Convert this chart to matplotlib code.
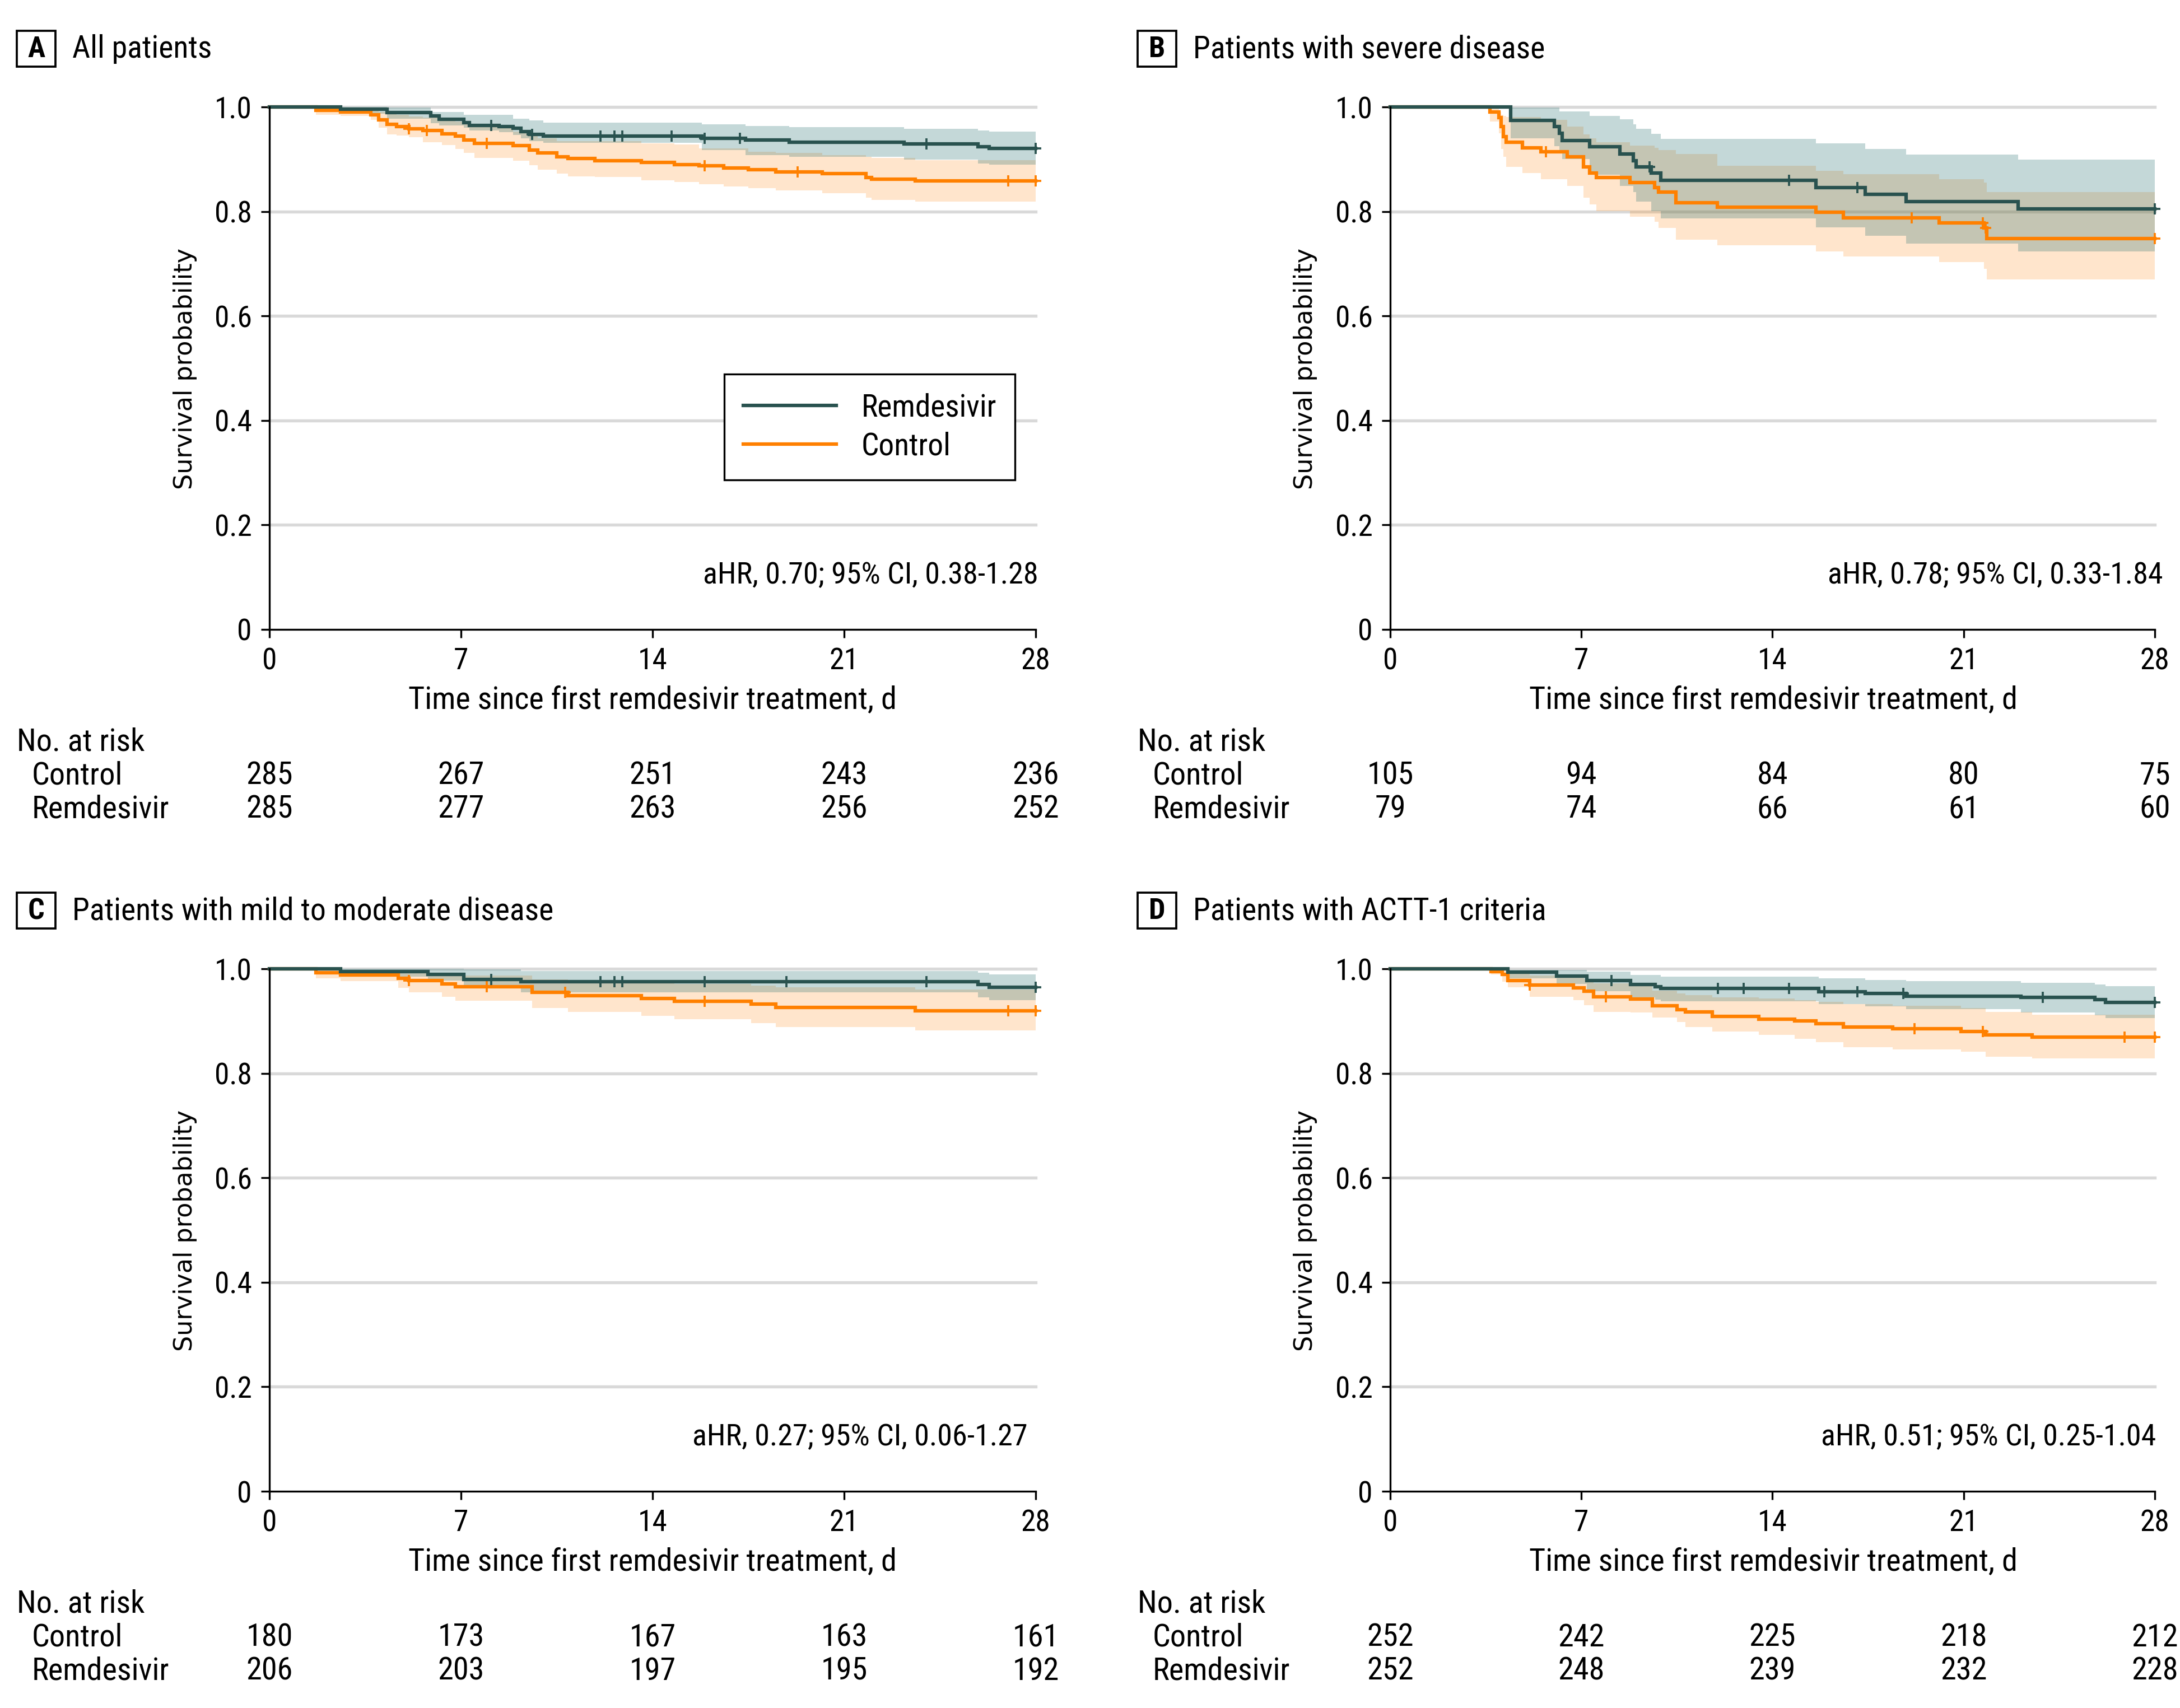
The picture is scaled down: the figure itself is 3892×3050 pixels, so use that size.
import numpy as np
import matplotlib
matplotlib.use('Agg')
import matplotlib.pyplot as plt
from matplotlib import font_manager as fm
from matplotlib import transforms as mtransforms
from matplotlib.patches import Rectangle

# ---- data ----
days = [0, 7, 14, 21, 28]

# A  all patients
a_rem_t = [0, 2.6, 4.3, 5.9, 6.2, 7.1, 7.3, 8.4, 8.9, 9.2, 9.5, 10.0, 15.8, 17.4, 19.0, 23.2, 25.9, 26.3]
a_rem_s = [1.0, 0.996, 0.989, 0.983, 0.976, 0.970, 0.965, 0.962, 0.959, 0.953, 0.948, 0.944, 0.940, 0.937, 0.933, 0.929, 0.924, 0.921]
a_rem_hi = [1.0, 1.0, 0.999, 0.990, 0.990, 0.985, 0.985, 0.985, 0.978, 0.978, 0.974, 0.970, 0.967, 0.964, 0.961, 0.958, 0.955, 0.953]
a_rem_lo = [1.0, 0.987, 0.978, 0.969, 0.965, 0.960, 0.955, 0.952, 0.946, 0.940, 0.935, 0.931, 0.917, 0.908, 0.905, 0.899, 0.892, 0.890]
a_rem_cens = [8.1, 9.6, 12.1, 12.6, 12.9, 14.7, 15.9, 17.2, 24.0, 28.0]

a_ctl_t = [0, 1.7, 2.6, 3.7, 4.0, 4.3, 4.65, 5.1, 5.6, 6.3, 6.8, 7.1, 7.5, 8.9, 9.5, 9.8, 10.5, 10.9, 11.9, 13.6, 14.8, 15.7, 16.6, 17.5, 18.5, 20.2, 21.8, 22.0, 23.6]
a_ctl_s = [1.0, 0.994, 0.990, 0.985, 0.975, 0.967, 0.962, 0.958, 0.955, 0.949, 0.944, 0.937, 0.930, 0.926, 0.917, 0.912, 0.905, 0.901, 0.897, 0.894, 0.890, 0.887, 0.883, 0.880, 0.876, 0.872, 0.865, 0.862, 0.858]
a_ctl_hi = [1.0, 1.0, 0.998, 0.995, 0.990, 0.987, 0.985, 0.982, 0.980, 0.976, 0.972, 0.967, 0.962, 0.953, 0.945, 0.940, 0.935, 0.935, 0.935, 0.930, 0.928, 0.921, 0.921, 0.914, 0.912, 0.908, 0.905, 0.903, 0.898]
a_ctl_lo = [1.0, 0.985, 0.983, 0.975, 0.960, 0.948, 0.945, 0.942, 0.932, 0.927, 0.920, 0.912, 0.903, 0.897, 0.889, 0.880, 0.872, 0.867, 0.866, 0.860, 0.856, 0.852, 0.848, 0.845, 0.840, 0.835, 0.826, 0.822, 0.819]
a_ctl_cens = [5.1, 5.75, 7.95, 15.9, 19.3, 27.0, 28.0]

# B  severe disease
b_rem_t = [0, 4.4, 6.0, 6.2, 6.3, 7.3, 8.4, 8.9, 9.0, 9.55, 9.9, 15.6, 17.4, 18.9, 23.0]
b_rem_s = [1.0, 0.974, 0.962, 0.950, 0.936, 0.924, 0.910, 0.897, 0.885, 0.874, 0.860, 0.846, 0.833, 0.819, 0.805]
b_rem_hi = [1.0, 0.999, 0.999, 0.991, 0.991, 0.983, 0.976, 0.967, 0.958, 0.949, 0.939, 0.930, 0.920, 0.909, 0.899]
b_rem_lo = [1.0, 0.940, 0.925, 0.912, 0.900, 0.870, 0.849, 0.837, 0.819, 0.801, 0.787, 0.770, 0.754, 0.738, 0.723]
b_rem_cens = [9.5, 14.6, 17.1, 28.0]

b_ctl_t = [0, 3.65, 3.97, 4.06, 4.15, 4.24, 4.84, 5.52, 6.49, 7.08, 7.31, 7.54, 8.77, 9.69, 9.83, 10.47, 11.98, 15.6, 16.6, 20.1, 21.75, 21.85]
b_ctl_s = [1.0, 0.990, 0.980, 0.962, 0.943, 0.933, 0.922, 0.914, 0.905, 0.885, 0.874, 0.865, 0.855, 0.846, 0.837, 0.817, 0.808, 0.798, 0.788, 0.778, 0.769, 0.748]
b_ctl_hi = [1.0, 1.0, 0.990, 0.985, 0.983, 0.981, 0.981, 0.975, 0.962, 0.948, 0.940, 0.933, 0.926, 0.922, 0.917, 0.910, 0.887, 0.878, 0.871, 0.862, 0.855, 0.837]
b_ctl_lo = [1.0, 0.972, 0.950, 0.920, 0.905, 0.885, 0.874, 0.862, 0.849, 0.826, 0.814, 0.801, 0.790, 0.780, 0.769, 0.746, 0.735, 0.724, 0.714, 0.703, 0.690, 0.670]
b_ctl_cens = [5.7, 19.1, 21.7, 21.8, 28.0]

# C  mild to moderate disease
c_rem_t = [0, 2.6, 5.8, 7.1, 9.2, 25.9, 26.3]
c_rem_s = [1.0, 0.995, 0.989, 0.980, 0.975, 0.970, 0.965]
c_rem_hi = [1.0, 1.0, 1.0, 0.999, 0.996, 0.993, 0.989]
c_rem_lo = [1.0, 0.985, 0.978, 0.965, 0.955, 0.945, 0.940]
c_rem_cens = [8.1, 12.1, 12.6, 12.9, 15.9, 18.9, 24.0, 28.0]

c_ctl_t = [0, 1.7, 2.6, 4.7, 5.1, 6.3, 6.8, 9.6, 10.9, 13.6, 14.8, 17.6, 18.5, 23.6]
c_ctl_s = [1.0, 0.993, 0.988, 0.982, 0.977, 0.971, 0.966, 0.955, 0.949, 0.943, 0.938, 0.932, 0.926, 0.920]
c_ctl_hi = [1.0, 1.0, 0.998, 0.995, 0.993, 0.990, 0.987, 0.980, 0.977, 0.974, 0.971, 0.968, 0.965, 0.960]
c_ctl_lo = [1.0, 0.982, 0.976, 0.964, 0.955, 0.946, 0.939, 0.925, 0.917, 0.910, 0.904, 0.896, 0.888, 0.882]
c_ctl_cens = [5.1, 7.95, 10.8, 15.9, 27.0, 28.0]

# D  ACTT-1 criteria
d_rem_t = [0, 4.3, 6.1, 7.2, 8.8, 9.7, 9.9, 15.7, 17.4, 18.9, 23.1, 25.8, 26.2]
d_rem_s = [1.0, 0.994, 0.986, 0.977, 0.970, 0.966, 0.962, 0.956, 0.953, 0.948, 0.945, 0.941, 0.936]
d_rem_hi = [1.0, 0.998, 0.998, 0.995, 0.988, 0.988, 0.985, 0.982, 0.979, 0.976, 0.973, 0.970, 0.967]
d_rem_lo = [1.0, 0.982, 0.971, 0.957, 0.945, 0.941, 0.938, 0.932, 0.928, 0.923, 0.916, 0.911, 0.906]
d_rem_cens = [8.1, 12.0, 12.95, 14.6, 15.9, 17.1, 18.8, 23.9, 28.0]

d_ctl_t = [0, 3.7, 4.1, 4.3, 5.1, 6.7, 7.1, 7.45, 8.8, 9.6, 10.5, 10.8, 11.8, 13.5, 14.8, 15.6, 16.6, 18.4, 20.9, 21.8, 23.5]
d_ctl_s = [1.0, 0.995, 0.989, 0.977, 0.969, 0.964, 0.957, 0.946, 0.942, 0.929, 0.922, 0.918, 0.909, 0.904, 0.900, 0.895, 0.889, 0.885, 0.880, 0.873, 0.869]
d_ctl_hi = [1.0, 1.0, 0.998, 0.991, 0.987, 0.984, 0.980, 0.972, 0.968, 0.958, 0.953, 0.950, 0.945, 0.943, 0.940, 0.937, 0.932, 0.929, 0.925, 0.918, 0.912]
d_ctl_lo = [1.0, 0.989, 0.975, 0.965, 0.946, 0.940, 0.930, 0.918, 0.916, 0.907, 0.898, 0.888, 0.880, 0.873, 0.866, 0.860, 0.850, 0.846, 0.841, 0.832, 0.828]
d_ctl_cens = [5.1, 7.9, 19.2, 21.7, 26.9, 28.0]

# numbers at risk
a_risk_ctl = [285, 267, 251, 243, 236]
a_risk_rem = [285, 277, 263, 256, 252]
b_risk_ctl = [105, 94, 84, 80, 75]
b_risk_rem = [79, 74, 66, 61, 60]
c_risk_ctl = [180, 173, 167, 163, 161]
c_risk_rem = [206, 203, 197, 195, 192]
d_risk_ctl = [252, 242, 225, 218, 212]
d_risk_rem = [252, 248, 239, 232, 228]

letters = ['A', 'B', 'C', 'D']
titles = ['All patients', 'Patients with severe disease',
          'Patients with mild to moderate disease', 'Patients with ACTT-1 criteria']
hr_texts = ['aHR, 0.70; 95% CI, 0.38-1.28', 'aHR, 0.78; 95% CI, 0.33-1.84',
            'aHR, 0.27; 95% CI, 0.06-1.27', 'aHR, 0.51; 95% CI, 0.25-1.04']

# ---- style ----
REM = '#29524f'
REM_BAND = '#287272'
CTL = '#ff8000'

# look for a narrow / condensed sans face; the original uses a condensed font
narrow_stretch = ('condensed', 'semi-condensed', 'extra-condensed', 'ultra-condensed')
font_name, font_stretch = None, 'normal'
for pref in ['Liberation Sans Narrow', 'Roboto Condensed', 'Open Sans Condensed',
             'Noto Sans', 'DejaVu Sans', 'Open Sans', 'Roboto', 'Liberation Sans']:
    for f in fm.fontManager.ttflist:
        if f.name != pref:
            continue
        if 'Narrow' in f.name or 'Condensed' in f.name:
            font_name, font_stretch = f.name, 'normal'
        elif str(f.stretch) in narrow_stretch:
            font_name, font_stretch = f.name, str(f.stretch)
        if font_name:
            break
    if font_name:
        break
if font_name is None:
    font_name = 'DejaVu Sans'
    k = 0.86     # shrink text so widths stay close to the condensed original
else:
    k = 1.0

plt.rcParams['font.family'] = [font_name, 'DejaVu Sans']
plt.rcParams['font.stretch'] = font_stretch

W, H = 3892, 3050
fig = plt.figure(figsize=(W / 300, H / 300), dpi=300)


def fx(px):
    return px / W


def fy(py):
    return 1 - py / H


def km(ax, t, s, lo, hi, cens, color, band, band_alpha):
    tt = list(t) + [28]
    ax.fill_between(tt, list(lo) + [lo[-1]], list(hi) + [hi[-1]], step='post',
                    color=band, alpha=band_alpha, lw=0, clip_on=False)
    ax.step(tt, list(s) + [s[-1]], where='post', color=color, lw=1.5,
            clip_on=False, solid_joinstyle='miter')
    idx = np.searchsorted(t, cens, side='right') - 1
    ax.plot(cens, np.array(s)[idx], ls='none', marker='+', ms=5, mew=0.9,
            color=color, clip_on=False)


panels = [
    (a_rem_t, a_rem_s, a_rem_lo, a_rem_hi, a_rem_cens, a_ctl_t, a_ctl_s, a_ctl_lo, a_ctl_hi, a_ctl_cens, a_risk_ctl, a_risk_rem),
    (b_rem_t, b_rem_s, b_rem_lo, b_rem_hi, b_rem_cens, b_ctl_t, b_ctl_s, b_ctl_lo, b_ctl_hi, b_ctl_cens, b_risk_ctl, b_risk_rem),
    (c_rem_t, c_rem_s, c_rem_lo, c_rem_hi, c_rem_cens, c_ctl_t, c_ctl_s, c_ctl_lo, c_ctl_hi, c_ctl_cens, c_risk_ctl, c_risk_rem),
    (d_rem_t, d_rem_s, d_rem_lo, d_rem_hi, d_rem_cens, d_ctl_t, d_ctl_s, d_ctl_lo, d_ctl_hi, d_ctl_cens, d_risk_ctl, d_risk_rem),
]
offsets = [(0, 0), (2001, 0), (0, 1539), (2001, 1539)]
hr_x = [28.1, 28.3, 27.7, 28.05]

for i, (dx, dy) in enumerate(offsets):
    (rt, rs, rlo, rhi, rc, ct, cs, clo, chi, cc, risk_c, risk_r) = panels[i]
    l, r, t, b = 481 + dx, 1849 + dx - (3 if i % 2 else 0), 191 + dy, 1124 + dy
    ax = fig.add_axes([fx(l), fy(b), fx(r - l), (b - t) / H])

    for yv in [0.2, 0.4, 0.6, 0.8, 1.0]:
        ax.axhline(yv, color='#d9d9d9', lw=1.3, zorder=0, clip_on=False)

    km(ax, ct, cs, clo, chi, cc, CTL, CTL, 0.2)
    km(ax, rt, rs, rlo, rhi, rc, REM, REM_BAND, 0.27)

    ax.set_xlim(0, 28)
    ax.set_ylim(0, 1.0)
    ax.set_xticks(days)
    ax.set_xticklabels([str(d) for d in days])
    ax.set_yticks([0, 0.2, 0.4, 0.6, 0.8, 1.0])
    ax.set_yticklabels(['0', '0.2', '0.4', '0.6', '0.8', '1.0'])
    ax.tick_params(direction='out', length=3.5, width=0.8, labelsize=12.8 * k, pad=4)
    for side in ['top', 'right']:
        ax.spines[side].set_visible(False)
    for side in ['left', 'bottom']:
        ax.spines[side].set_linewidth(0.8)

    ax.text(hr_x[i], 0.103, hr_texts[i], ha='right', va='center', fontsize=13 * k)

    if i == 0:
        ax.plot([], [], color=REM, lw=1.5, label='Remdesivir')
        ax.plot([], [], color=CTL, lw=1.5, label='Control')
        leg = ax.legend(loc='upper right', bbox_to_anchor=(0.973, 0.489), fontsize=13.3 * k,
                        frameon=True, fancybox=False, edgecolor='black', framealpha=1,
                        handlelength=3.0, borderpad=0.6, labelspacing=0.3,
                        borderaxespad=0)
        leg.get_frame().set_linewidth(0.8)

    # axis labels
    fig.text(fx(330 + dx), fy(658 + dy), 'Survival probability', rotation=90,
             ha='center', va='center', fontsize=10.7, family='DejaVu Sans', stretch='normal')
    fig.text(fx(1165 + dx), fy(1251 + dy), 'Time since first remdesivir treatment, d',
             ha='center', va='center', fontsize=13.5 * k)

    # panel letter box and title
    fig.patches.append(Rectangle((fx(30 + dx), fy(119 + dy)), fx(69), 64 / H,
                                 transform=fig.transFigure, fill=False, ec='black', lw=0.9))
    fig.text(fx(64.5 + dx), fy(88 + dy), letters[i], ha='center', va='center',
             fontsize=12.5 * k, fontweight='bold')
    fig.text(fx(129 + dx), fy(88 + dy), titles[i], ha='left', va='center', fontsize=13.4 * k)

    # numbers at risk
    tr = mtransforms.blended_transform_factory(ax.transData, fig.transFigure)
    fig.text(fx(30 + dx), fy(1325 + dy), 'No. at risk', ha='left', va='center', fontsize=13.5 * k)
    fig.text(fx(57 + dx), fy(1385 + dy), 'Control', ha='left', va='center', fontsize=13.5 * k)
    fig.text(fx(57 + dx), fy(1445 + dy), 'Remdesivir', ha='left', va='center', fontsize=13.5 * k)
    for d, nc, nr in zip(days, risk_c, risk_r):
        ax.text(d, fy(1385 + dy), str(nc), transform=tr, ha='center', va='center', fontsize=13.5 * k)
        ax.text(d, fy(1445 + dy), str(nr), transform=tr, ha='center', va='center', fontsize=13.5 * k)

fig.savefig('out.png', dpi=300, facecolor='white')
